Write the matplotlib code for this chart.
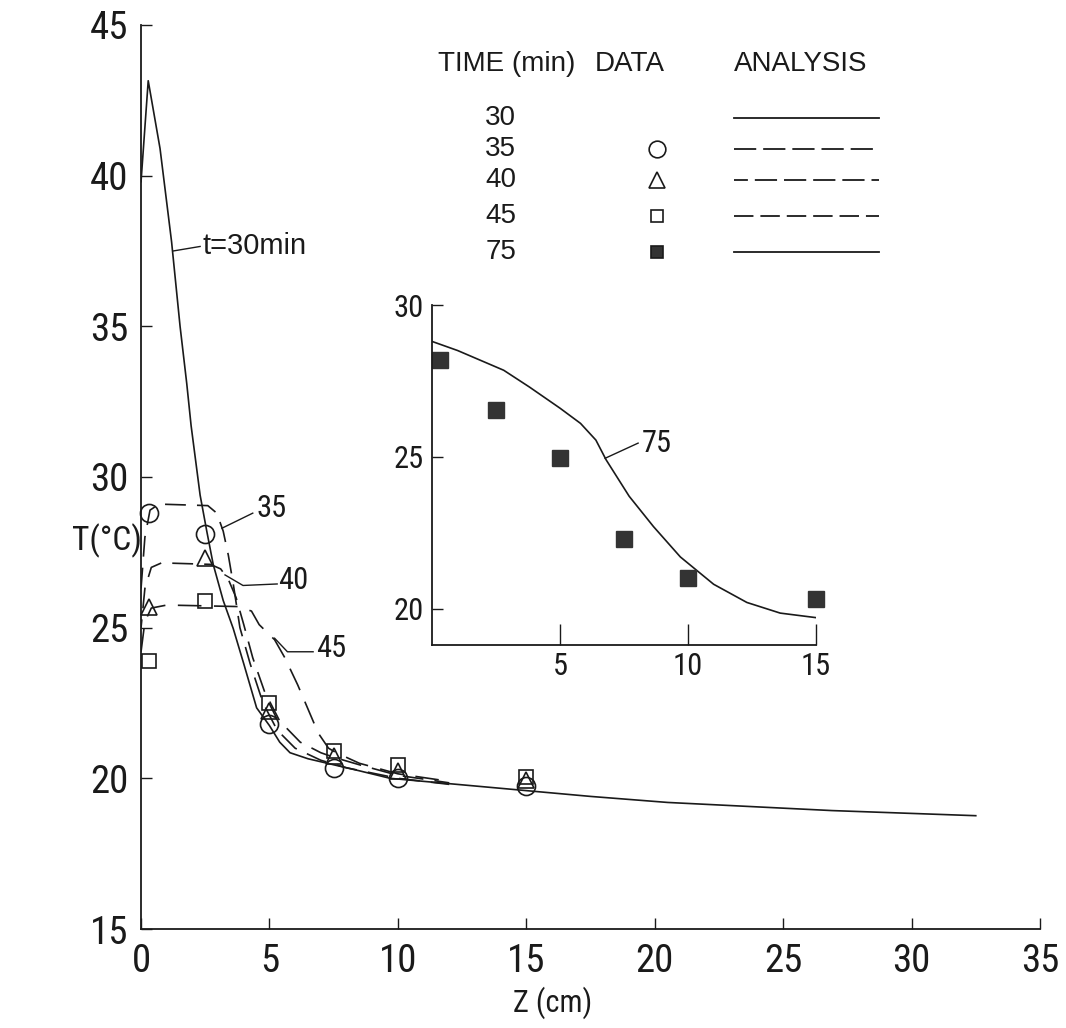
import matplotlib
matplotlib.use("Agg")
import matplotlib.pyplot as plt
from matplotlib import font_manager as fm

# ---------------------------------------------------------------- data
# measured temperatures (deg C) at depth z (cm)
z_pts = [0.3, 2.5, 5.0, 7.5, 10.0, 15.0]
T_35 = [28.8, 28.1, 21.8, 20.35, 20.0, 19.75]
T_40 = [25.7, 27.3, 22.25, 20.75, 20.25, 19.95]
T_45 = [23.9, 25.9, 22.5, 20.9, 20.45, 20.05]

z_75 = [0.3, 2.5, 5.0, 7.5, 10.0, 15.0]
T_75 = [28.2, 26.55, 24.95, 22.3, 21.0, 20.3]

# analysis profiles
z_a30 = [0.0, 0.28, 0.74, 1.19, 1.52, 1.78, 1.95, 2.3, 2.56, 2.81, 3.2, 3.59,
         4.0, 4.5, 5.0, 5.4, 5.8, 6.5, 7.5, 8.5, 9.7, 12.3, 14.9, 17.5, 20.5,
         26.9, 32.5]
T_a30 = [39.8, 43.15, 40.9, 37.8, 35.0, 33.1, 31.7, 29.4, 28.2, 27.1, 25.9,
         24.97, 23.8, 22.34, 21.75, 21.2, 20.85, 20.65, 20.45, 20.25, 20.0,
         19.8, 19.6, 19.4, 19.2, 18.93, 18.76]

z_a35 = [0.0, 0.15, 0.35, 0.7, 2.6, 2.95, 3.2, 3.4, 3.6, 3.85, 4.25, 4.75,
         5.3, 6.0, 7.0, 8.0, 10.0, 12.0]
T_a35 = [26.3, 28.0, 28.9, 29.1, 29.05, 28.8, 28.2, 27.4, 26.4, 25.0, 23.8,
         22.5, 21.6, 21.0, 20.6, 20.35, 20.0, 19.8]

z_a40 = [0.0, 0.15, 0.4, 0.8, 2.7, 3.1, 3.4, 3.7, 4.0, 4.35, 4.8, 5.4, 6.2,
         7.0, 7.5, 8.5, 10.0, 12.0]
T_a40 = [25.0, 26.3, 27.0, 27.15, 27.1, 26.95, 26.6, 26.0, 25.1, 24.0, 22.9,
         21.9, 21.2, 20.85, 20.7, 20.45, 20.1, 19.85]

z_a45 = [0.0, 0.15, 0.4, 1.0, 3.8, 4.3, 4.6, 5.2, 5.6, 6.1, 6.5, 6.9, 7.3,
         7.6, 8.5, 10.0, 12.0]
T_a45 = [24.2, 25.2, 25.65, 25.75, 25.7, 25.55, 25.1, 24.6, 24.0, 23.1, 22.3,
         21.5, 21.0, 20.85, 20.5, 20.15, 19.9]

z_a75 = [0.0, 1.0, 2.8, 3.8, 5.0, 5.8, 6.4, 6.8, 7.7, 8.65, 9.7, 11.0, 12.3,
         13.6, 15.0]
T_a75 = [28.8, 28.5, 27.85, 27.3, 26.6, 26.1, 25.55, 24.9, 23.7, 22.7, 21.7,
         20.8, 20.2, 19.85, 19.7]

main_xticks = [0, 5, 10, 15, 20, 25, 30, 35]
main_yticks = [15, 20, 25, 30, 35, 40, 45]
inset_xticks = [5, 10, 15]
inset_yticks = [20, 25, 30]

legend_times = ["30", "35", "40", "45", "75"]

# ---------------------------------------------------------------- style
names = {f.name for f in fm.fontManager.ttflist}
FONT = "DejaVu Sans"
for cand in ["Liberation Sans Narrow", "Roboto Condensed",
             "DejaVu Sans Condensed", "Liberation Sans"]:
    if cand in names:
        FONT = cand
        break
WIDE = "Liberation Sans" if "Liberation Sans" in names else "DejaVu Sans"
plt.rcParams["font.family"] = [FONT, "DejaVu Sans"]
plt.rcParams["lines.scale_dashes"] = False

INK = "#1a1a1a"
LW = 1.2
DASH_35 = (0, (15, 8))
DASH_40 = (9, (15, 8))
DASH_45 = (0, (17, 9))
wide = dict(family=[WIDE, "DejaVu Sans"], color=INK)

fig = plt.figure(figsize=(10.66, 10.28), dpi=100)
fig.patch.set_facecolor("white")

# ---------------------------------------------------------------- main axes
ax = fig.add_axes([0.1323, 0.0963, 0.8433, 0.8794])
ax.set_xlim(0, 35)
ax.set_ylim(15, 45)
for s in ("top", "right"):
    ax.spines[s].set_visible(False)
for s in ("left", "bottom"):
    ax.spines[s].set_linewidth(1.3)
    ax.spines[s].set_color(INK)
ax.set_xticks(main_xticks)
ax.set_yticks(main_yticks)
ax.tick_params(direction="in", length=8, width=1.0, colors=INK,
               labelsize=28)
ax.tick_params(axis="x", pad=10)
ax.tick_params(axis="y", pad=9)

ax.plot(z_a30, T_a30, color=INK, lw=LW)
ax.plot(z_a35, T_a35, color=INK, lw=LW, ls=DASH_35)
ax.plot(z_a40, T_a40, color=INK, lw=LW, ls=DASH_40)
ax.plot(z_a45, T_a45, color=INK, lw=LW, ls=DASH_45)

mk = dict(ls="none", mfc="none", mec=INK, mew=1.2, clip_on=False)
ax.plot(z_pts, T_35, marker="o", ms=13, **mk)
ax.plot(z_pts, T_40, marker="^", ms=11, **mk)
ax.plot(z_pts, T_45, marker="s", ms=10, **mk)

# curve annotations
lead = dict(color=INK, lw=1.0)
ax.plot([1.25, 2.3], [37.5, 37.65], **lead)
ax.text(2.4, 37.65, "t=30min", fontsize=21, va="center", ha="left", **wide)
ax.plot([3.15, 4.35], [28.3, 28.8], **lead)
ax.text(4.5, 28.95, "35", fontsize=22, va="center", ha="left", color=INK)
ax.plot([3.27, 3.97, 5.3], [26.75, 26.4, 26.45], **lead)
ax.text(5.35, 26.55, "40", fontsize=22, va="center", ha="left", color=INK)
ax.plot([5.2, 5.7, 6.7], [24.65, 24.2, 24.2], **lead)
ax.text(6.8, 24.3, "45", fontsize=22, va="center", ha="left", color=INK)

ax.text(0.458, -0.081, "Z (cm)", transform=ax.transAxes, fontsize=22,
        ha="center", va="center", color=INK)
ax.text(0.05, 27.9, "T(\u00b0C)", fontsize=24, ha="right", va="center",
        color=INK, clip_on=False)

# ---------------------------------------------------------------- key
hdr_y = 43.7
ax.text(11.55, hdr_y, "TIME (min)", fontsize=20, ha="left", va="center",
        **wide)
ax.text(17.65, hdr_y, "DATA", fontsize=20, ha="left", va="center", **wide)
ax.text(23.1, hdr_y, "ANALYSIS", fontsize=20, ha="left", va="center",
        **wide)

row_y = [41.9, 40.87, 39.85, 38.65, 37.47]
key_styles = ["-", (0, (16, 5)), (6, (16, 5)), (0, (14, 5)), "-"]
key_marks = [None, "o", "^", "s", "s"]
key_ms = [0, 12, 12, 9, 9]
for i, lab in enumerate(legend_times):
    y = row_y[i]
    ax.text(14.0, y, lab, fontsize=20, ha="center", va="center", **wide)
    ax.plot([23.1, 28.75], [y, y], color=INK, lw=1.3, ls=key_styles[i])
    if key_marks[i] is not None:
        filled = lab == "75"
        ax.plot([20.1], [y], marker=key_marks[i], ms=key_ms[i], ls="none",
                mec=INK, mew=1.2, mfc="#333333" if filled else "none")

# ---------------------------------------------------------------- inset
ax2 = fig.add_axes([0.4053, 0.3726, 0.3602, 0.3307])
ax2.set_xlim(0, 15)
ax2.set_ylim(18.8, 30)
ax2.patch.set_alpha(0)
for s in ("top", "right"):
    ax2.spines[s].set_visible(False)
for s in ("left", "bottom"):
    ax2.spines[s].set_linewidth(1.3)
    ax2.spines[s].set_color(INK)
ax2.set_xticks(inset_xticks)
ax2.set_yticks(inset_yticks)
ax2.tick_params(direction="in", colors=INK, labelsize=22, width=1.0)
ax2.tick_params(axis="x", length=15, pad=5)
ax2.tick_params(axis="y", length=8, pad=6)

ax2.plot(z_a75, T_a75, color=INK, lw=LW)
ax2.plot(z_75, T_75, ls="none", marker="s", ms=12, mfc="#333333",
         mec="#333333", clip_on=False)
ax2.plot([6.76, 8.05], [24.95, 25.45], **lead)
ax2.text(8.2, 25.45, "75", fontsize=22, ha="left", va="center", color=INK)

fig.savefig("out.png", dpi=100, facecolor="white")
